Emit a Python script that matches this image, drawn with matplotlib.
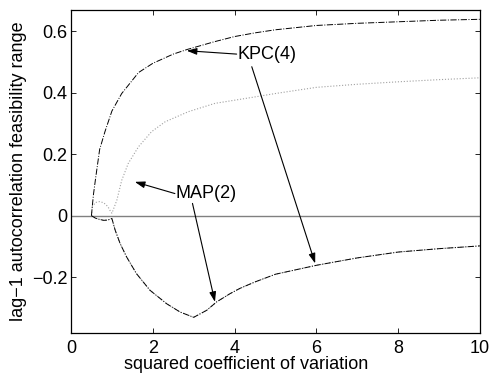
import matplotlib
matplotlib.use('Agg')
import matplotlib.pyplot as plt
import numpy as np

plt.rcParams['font.family'] = ['Liberation Sans', 'DejaVu Sans']

# KPC(4) feasibility bounds
kpc_up_x = [0.5, 0.52, 0.55, 0.6, 0.7, 0.83, 1.0, 1.24, 1.5, 1.65, 2.0, 2.5, 2.84, 3.5, 4.0, 4.5, 5.0, 6.0, 7.0, 8.0, 9.0, 10.0]
kpc_up_y = [0.0, 0.03, 0.07, 0.12, 0.215, 0.273, 0.34, 0.397, 0.44, 0.465, 0.495, 0.525, 0.54, 0.565, 0.582, 0.594, 0.604, 0.618, 0.625, 0.63, 0.635, 0.638]
kpc_lo_x = [0.5, 0.6, 0.7, 0.8, 0.9, 1.0, 1.08, 1.2, 1.36, 1.6, 1.93, 2.34, 2.67, 3.0, 3.32, 3.56, 3.89, 4.13, 4.5, 5.0, 6.0, 7.0, 8.0, 9.0, 10.0]
kpc_lo_y = [0.0, -0.008, -0.012, -0.015, -0.014, -0.009, -0.047, -0.09, -0.134, -0.188, -0.242, -0.286, -0.313, -0.33, -0.307, -0.28, -0.253, -0.236, -0.215, -0.19, -0.161, -0.137, -0.118, -0.107, -0.098]

# MAP(2) feasibility bounds
map_up_x = [0.5, 0.52, 0.6, 0.7, 0.8, 0.9, 0.95, 1.0, 1.12, 1.24, 1.4, 1.65, 1.97, 2.3, 2.87, 3.52, 4.13, 4.5, 5.0, 6.0, 7.0, 8.0, 9.0, 10.0]
map_up_y = [0.0, 0.03, 0.043, 0.046, 0.042, 0.03, 0.018, 0.008, 0.05, 0.115, 0.17, 0.224, 0.273, 0.305, 0.338, 0.365, 0.378, 0.386, 0.397, 0.417, 0.427, 0.435, 0.442, 0.448]
map_lo_x = kpc_lo_x
map_lo_y = kpc_lo_y

xticks = [0, 2, 4, 6, 8, 10]
yticks = [-0.2, 0, 0.2, 0.4, 0.6]
ytick_labels = ['\u22120.2', '0', '0.2', '0.4', '0.6']

fig = plt.figure(figsize=(4.91, 3.73), dpi=100)
ax = fig.add_axes([0.1446, 0.108, 0.833, 0.865])

ax.axhline(0, color='#808080', lw=1.0)
ax.plot(map_up_x, map_up_y, ':', color='#a0a0a0', lw=0.8)
ax.plot(map_lo_x, map_lo_y, ':', color='#a0a0a0', lw=0.8)
ax.plot(kpc_up_x, kpc_up_y, '-.', color='k', lw=0.7)
ax.plot(kpc_lo_x, kpc_lo_y, '-.', color='k', lw=0.7)

ax.set_xlim(0, 10)
ax.set_ylim(-0.38, 0.668)
ax.set_xticks(xticks)
ax.set_xticklabels([str(v) for v in xticks])
ax.set_yticks(yticks)
ax.set_yticklabels(ytick_labels)
ax.tick_params(direction='in', length=3.6, width=0.6, top=True, right=True,
               labelsize=13, pad=2.5)
ax.tick_params(axis='x', pad=5)
for s in ax.spines.values():
    s.set_linewidth(0.9)

ax.set_xlabel('squared coefficient of variation', fontsize=13)
ax.set_ylabel('lag\u22121 autocorrelation feasibility range', fontsize=13)
ax.xaxis.set_label_coords(0.428, -0.072)
ax.yaxis.set_label_coords(-0.108, 0.5)

arrow = dict(arrowstyle='-|>,head_length=0.6,head_width=0.2', color='k', lw=0.8,
             shrinkA=0, shrinkB=0, mutation_scale=10)

# KPC(4) label and arrows
ax.text(4.78, 0.525, 'KPC(4)', fontsize=13, ha='center', va='center')
ax.annotate('', xy=(2.83, 0.536), xytext=(4.05, 0.525), arrowprops=arrow)
ax.annotate('', xy=(5.97, -0.155), xytext=(4.42, 0.484), arrowprops=arrow)

# MAP(2) label and arrows
ax.text(3.30, 0.072, 'MAP(2)', fontsize=13, ha='center', va='center')
ax.annotate('', xy=(1.56, 0.11), xytext=(2.54, 0.072), arrowprops=arrow)
ax.annotate('', xy=(3.52, -0.28), xytext=(2.97, 0.04), arrowprops=arrow)

fig.savefig('out.png', dpi=100)
